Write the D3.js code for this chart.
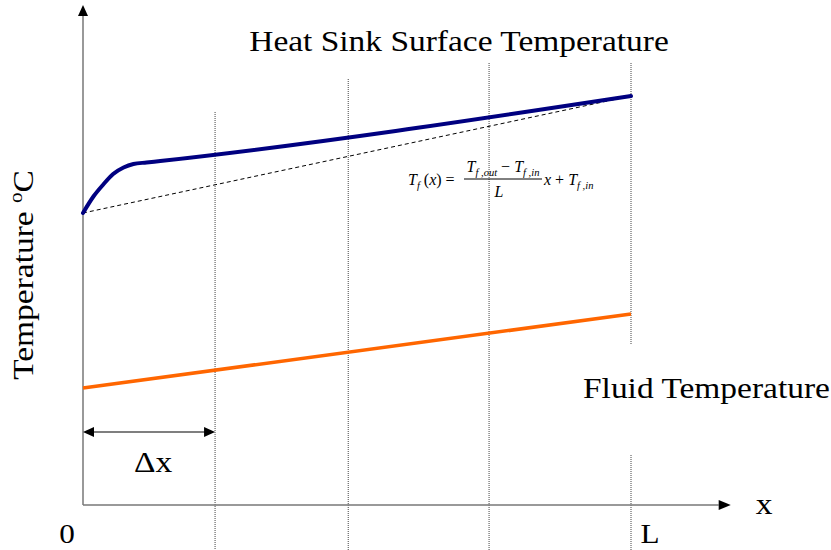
<!DOCTYPE html>
<html>
<head>
<meta charset="utf-8">
<script src="https://cdn.jsdelivr.net/npm/d3@7/dist/d3.min.js"></script>
<style>
  html, body { margin: 0; padding: 0; background: #fff; }
  svg { display: block; }
  text { font-family: "Liberation Serif", "Times New Roman", serif; fill: #000; }
</style>
</head>
<body>
<svg id="chart" width="831" height="550"></svg>
<script>
// Position along the heat sink, as a fraction of its length L
const surfaceX = [0, 0.019, 0.037, 0.055, 0.074, 0.092, 0.116, 0.141, 1.0];
// Heat sink surface temperature (arbitrary units)
const surfaceT = [58.4, 61.7, 64.1, 66.2, 67.5, 68.2, 68.5, 68.8, 81.8];
// Linear reference between inlet and outlet surface temperatures
const linearX = [0, 1.0];
const linearT = [58.4, 81.8];
// Fluid temperature, linear from inlet to outlet
const fluidX = [0, 1.0];
const fluidT = [23.4, 38.2];
// Control-volume boundaries (fraction of L)
const gridX = [0.241, 0.484, 0.741, 1.0];
const gridTop = [78.6, 85.2, 88.4, 88.4];
// Tick labels on the x axis
const tickLabels = ["0", "L"];
const tickPos = [0, 1.0];

const svg = d3.select("#chart");
const x = d3.scaleLinear().domain([0, 1]).range([83, 631]);
const y = d3.scaleLinear().domain([0, 100]).range([505, 5]);

// Serif labels are set slightly wide
const WIDE = 1.115;
function label(px, py, str, opts = {}) {
  const rot = opts.rotate ? ` rotate(${opts.rotate})` : "";
  return svg.append("text")
    .attr("transform", `translate(${px},${py})${rot} scale(${WIDE},1)`)
    .attr("text-anchor", opts.anchor || "start")
    .attr("font-size", opts.size || 30)
    .text(str);
}

// Dotted boundaries of the discretisation
gridX.forEach((gx, i) => {
  const segs = (i === gridX.length - 1)
    ? [[gridTop[i], 32], [10, -9]]
    : [[gridTop[i], -9]];
  segs.forEach(([a, b]) => {
    svg.append("line")
      .attr("x1", x(gx)).attr("x2", x(gx))
      .attr("y1", y(a)).attr("y2", y(b))
      .attr("stroke", "#444").attr("stroke-width", 1)
      .attr("stroke-dasharray", "1,1");
  });
});

// Axes with arrowheads
const axisColor = "#777";
svg.append("line")
  .attr("x1", x(0)).attr("x2", x(0))
  .attr("y1", y(0)).attr("y2", y(97.8))
  .attr("stroke", axisColor).attr("stroke-width", 1.5);
svg.append("path")
  .attr("d", `M${x(0)},${y(100)} L${x(0) - 5},${y(97.8)} L${x(0) + 5},${y(97.8)} Z`)
  .attr("fill", "#000");
svg.append("line")
  .attr("x1", x(0)).attr("x2", x(1.16))
  .attr("y1", y(0)).attr("y2", y(0))
  .attr("stroke", axisColor).attr("stroke-width", 1.5);
svg.append("path")
  .attr("d", `M${x(1.182)},${y(0)} L${x(1.16)},${y(0) - 5} L${x(1.16)},${y(0) + 5} Z`)
  .attr("fill", "#000");

// Dashed linear profile
const line = d3.line().x(d => x(d[0])).y(d => y(d[1]));
svg.append("path")
  .attr("d", line(d3.zip(linearX, linearT)))
  .attr("fill", "none").attr("stroke", "#000").attr("stroke-width", 1)
  .attr("stroke-dasharray", "4,3");

// Heat sink surface temperature
svg.append("path")
  .attr("d", d3.line().x(d => x(d[0])).y(d => y(d[1])).curve(d3.curveMonotoneX)(d3.zip(surfaceX, surfaceT)))
  .attr("fill", "none").attr("stroke", "#000080").attr("stroke-width", 4)
  .attr("stroke-linecap", "round");

// Fluid temperature
svg.append("path")
  .attr("d", line(d3.zip(fluidX, fluidT)))
  .attr("fill", "none").attr("stroke", "#FF6600").attr("stroke-width", 3.5);

// Delta-x dimension arrow
const dy = y(14.6);
svg.append("line")
  .attr("x1", x(0) + 8).attr("x2", x(gridX[0]) - 8)
  .attr("y1", dy).attr("y2", dy)
  .attr("stroke", "#555").attr("stroke-width", 1.5);
svg.append("path")
  .attr("d", `M${x(0)},${dy} L${x(0) + 11},${dy - 5} L${x(0) + 11},${dy + 5} Z`)
  .attr("fill", "#000");
svg.append("path")
  .attr("d", `M${x(gridX[0])},${dy} L${x(gridX[0]) - 11},${dy - 5} L${x(gridX[0]) - 11},${dy + 5} Z`)
  .attr("fill", "#000");
label((x(0) + x(gridX[0])) / 2 + 4, 472, "\u0394x", { anchor: "middle" });

// Tick labels
tickLabels.forEach((t, i) => {
  label(x(tickPos[i]) + (i === 0 ? -16 : 19), 543, t, { anchor: "middle", size: 28 });
});
label(764, 514, "x", { anchor: "middle" });

// Series labels
label(459, 51, "Heat Sink Surface Temperature", { anchor: "middle" });
label(583, 398, "Fluid Temperature");

// Y axis title
const yt = svg.append("text")
  .attr("transform", `translate(33,275) rotate(-90) scale(${WIDE},1)`)
  .attr("text-anchor", "middle").attr("font-size", 30);
yt.append("tspan").text("Temperature ");
yt.append("tspan").attr("font-size", 19).attr("dy", -11).text("o");
yt.append("tspan").attr("dy", 11).text("C");

// Linear fluid temperature formula
const fs = 16, ss = 10.5;
const f1 = svg.append("text").attr("x", 408).attr("y", 185).attr("font-size", fs);
f1.append("tspan").attr("font-style", "italic").text("T");
f1.append("tspan").attr("font-style", "italic").attr("font-size", ss).attr("dy", 4).text("f");
f1.append("tspan").attr("dy", -4).text(" (");
f1.append("tspan").attr("font-style", "italic").text("x");
f1.append("tspan").text(") =");

const num = svg.append("text").attr("x", 503).attr("y", 172)
  .attr("font-size", fs).attr("text-anchor", "middle");
num.append("tspan").attr("font-style", "italic").text("T");
num.append("tspan").attr("font-style", "italic").attr("font-size", ss).attr("dy", 4).text("f ,out");
num.append("tspan").attr("dy", -4).text(" \u2212 ");
num.append("tspan").attr("font-style", "italic").text("T");
num.append("tspan").attr("font-style", "italic").attr("font-size", ss).attr("dy", 4).text("f ,in");

svg.append("line")
  .attr("x1", 464).attr("x2", 542).attr("y1", 179).attr("y2", 179)
  .attr("stroke", "#000").attr("stroke-width", 1);
svg.append("text").attr("x", 499).attr("y", 197)
  .attr("font-size", fs).attr("font-style", "italic").attr("text-anchor", "middle")
  .text("L");

const f2 = svg.append("text").attr("x", 544).attr("y", 185).attr("font-size", fs);
f2.append("tspan").attr("font-style", "italic").text("x");
f2.append("tspan").text(" + ");
f2.append("tspan").attr("font-style", "italic").text("T");
f2.append("tspan").attr("font-style", "italic").attr("font-size", ss).attr("dy", 4).text("f ,in");
</script>
</body>
</html>
